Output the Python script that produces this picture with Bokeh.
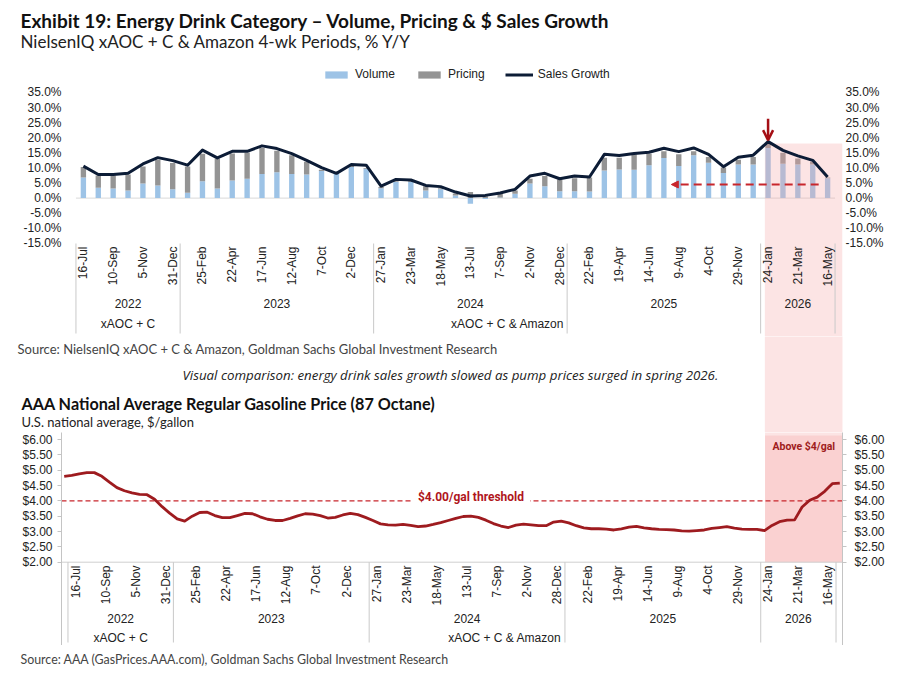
import numpy as np
import pandas as pd
from bokeh.plotting import figure
from bokeh.models import (Range1d, LinearAxis, FixedTicker, PrintfTickFormatter, Legend,
                          LegendItem, Arrow, OpenHead, NormalHead, Label)
from bokeh.layouts import column
from bokeh.core.properties import value
from bokeh.embed import file_html
from bokeh.resources import INLINE

# ---------------- data ----------------
first_period_end = "2022-07-16"          # NielsenIQ 4-week periods
volume = [6.8, 3.4, 3.2, 2.5, 4.8, 4.2, 2.9, 1.8, 5.6, 3.2,
          5.8, 6.4, 8.0, 8.6, 8.0, 7.8, 9.0, 8.3, 10.3, 9.7,
          3.3, 5.3, 5.3, 2.5, 2.9, 0.9, -1.9, -0.3, 0.2, 1.4,
          4.8, 3.9, 2.3, 2.3, 2.2, 9.1, 9.5, 9.4, 10.9, 13.3,
          10.6, 14.2, 11.7, 8.3, 11.1, 11.1, 16.6, 11.4, 11.1, 11.1, 6.6]
pricing = [3.5, 4.1, 4.3, 5.3, 5.7, 8.5, 8.7, 8.7, 9.1, 9.9,
           9.0, 8.7, 8.6, 7.1, 6.2, 4.2, 0.4, 0.2, 0.3, 0.3,
           0.4, 0.3, 0.3, 1.4, 0.4, 0.6, 2.0, 0.6, 1.4, 1.1,
           1.6, 3.4, 3.9, 4.3, 4.6, 4.3, 3.9, 5.0, 3.8, 2.2,
           3.9, 1.3, 1.9, 1.8, 1.6, 2.5, 1.5, 3.6, 2.0, 0.9, 0.2]
sales_growth = [10.6, 7.8, 7.8, 8.2, 11.3, 13.4, 12.4, 10.9, 15.9, 13.3,
                15.5, 15.5, 17.3, 16.4, 14.7, 12.5, 10.1, 8.2, 11.1, 10.9,
                4.0, 6.2, 6.0, 4.2, 3.8, 2.0, 0.7, 0.9, 1.7, 2.9,
                7.3, 8.2, 6.4, 7.3, 7.0, 14.5, 14.1, 14.8, 15.2, 16.5,
                15.4, 16.6, 14.5, 10.4, 13.5, 14.2, 18.7, 15.8, 14.0, 12.5, 7.0]
channel_names = ["xAOC + C", "xAOC + C & Amazon"]
channel_start_year = [2022, 2023]
pct_ticks = [-15, -10, -5, 0, 5, 10, 15, 20, 25, 30, 35]

gas_first_date = "2022-06-25"            # bi-weekly readings
gas_price = [4.80, 4.83, 4.88, 4.92, 4.92, 4.80, 4.61, 4.43, 4.33, 4.26,
             4.21, 4.20, 4.05, 3.81, 3.60, 3.41, 3.34, 3.50, 3.62, 3.63,
             3.52, 3.45, 3.45, 3.52, 3.59, 3.58, 3.48, 3.40, 3.36, 3.36,
             3.43, 3.51, 3.58, 3.57, 3.52, 3.44, 3.46, 3.54, 3.59, 3.55,
             3.46, 3.36, 3.25, 3.22, 3.21, 3.23, 3.20, 3.16, 3.18, 3.23,
             3.29, 3.36, 3.43, 3.49, 3.50, 3.46, 3.37, 3.26, 3.18, 3.13,
             3.21, 3.24, 3.22, 3.19, 3.19, 3.31, 3.34, 3.28, 3.19, 3.12,
             3.09, 3.09, 3.08, 3.05, 3.09, 3.14, 3.17, 3.12, 3.09, 3.07,
             3.06, 3.05, 3.02, 3.01, 3.03, 3.05, 3.10, 3.13, 3.16, 3.11,
             3.08, 3.07, 3.07, 3.03, 3.20, 3.32, 3.37, 3.38, 3.80, 4.02,
             4.12, 4.31, 4.56, 4.58]
gas_ticks = [2.0, 2.5, 3.0, 3.5, 4.0, 4.5, 5.0, 5.5, 6.0]
gas_threshold = 4.0
highlight_from = "2026-01-18"

# ---------------- derived ----------------
periods = pd.date_range(first_period_end, periods=len(volume), freq="28D")
idx = np.arange(len(periods))


def to_idx(dates):
    return np.asarray((pd.DatetimeIndex(dates) - periods[0]).days, dtype=float) / 28.0


tick_idx = list(idx[::2])
tick_text = [f"{d.day}-{d.strftime('%b')}" for d in periods[::2]]
years = np.asarray(periods.year)
year_list = sorted(set(years.tolist()))
year_lo = [idx[years == y].min() - 0.5 for y in year_list]
year_hi = [idx[years == y].max() + 0.5 for y in year_list]
seps = sorted(set(year_lo + year_hi))
ch_lo, ch_hi = [], []
for k, sy in enumerate(channel_start_year):
    ey = channel_start_year[k + 1] if k + 1 < len(channel_start_year) else 10000
    m = (years >= sy) & (years < ey)
    ch_lo.append(idx[m].min() - 0.5)
    ch_hi.append(idx[m].max() + 0.5)
hl = float(to_idx([highlight_from])[0])

vol = np.array(volume)
pri = np.array(pricing)
pri_bottom = np.maximum(vol, 0)
pri_top = pri_bottom + pri

gas_x = to_idx(pd.date_range(gas_first_date, periods=len(gas_price), freq="14D"))

# ---------------- styling / layout ----------------
W = 898
PX0 = 0
TXT = "#222222"
AXF = "Liberation Sans"
HF = "Lato"
RED = "#a50f15"
BAND = "#f4a6a6"
SEP = "#c9c9c9"

P1_TOP, P1_BOT = 62, 336
P1_FL, P1_FR = 68, 842
P1_X = (-1.0, 51.0)
P1_ZERO, P1_PX = 197.6, 3.02


def y1(py):
    return (P1_ZERO - py) / P1_PX


P2_TOP, P2_BOT = 432, 645
P2_FL, P2_FR = 61, 842
P2_X = (-0.93, 50.93)
P2_Y6, P2_PX = 439.0, 30.675
PAGE_BOT = 673


def y2(py):
    return 6 - (py - P2_Y6) / P2_PX


def page_x1(i):
    return P1_FL + (i - P1_X[0]) * (P1_FR - P1_FL) / (P1_X[1] - P1_X[0])


def no_align(f):
    if "frame_align" in f.properties():
        f.frame_align = False
    return f


def text_fig(top, bot):
    f = figure(width=W, height=bot - top, x_range=Range1d(PX0, PX0 + W),
               y_range=Range1d(bot, top), output_backend="svg", toolbar_location=None,
               title=None, x_axis_location=None, y_axis_location=None, min_border=0)
    f.grid.visible = False
    f.outline_line_color = None
    return no_align(f)


def put(f, x, y, s, size, color=TXT, style="normal", font=HF, align="left"):
    f.text(x=[x], y=[y], text=[s], text_font=value(font), text_font_size=size,
           text_color=color, text_font_style=style, text_align=align,
           text_baseline="middle")


def style_axis(ax, ticks, fmt, standoff, tick_out, line_color):
    ax.ticker = FixedTicker(ticks=ticks)
    ax.formatter = PrintfTickFormatter(format=fmt)
    ax.major_label_text_font = AXF
    ax.major_label_text_font_size = "12px"
    ax.major_label_text_color = TXT
    ax.major_label_standoff = standoff
    ax.minor_tick_line_color = None
    ax.major_tick_out = tick_out
    ax.major_tick_in = 0
    ax.major_tick_line_color = line_color
    ax.axis_line_color = line_color


def category_axis(p, y_date, y_year, y_chan, y_s0, y_s1):
    p.segment(x0=seps, y0=[y_s0] * len(seps), x1=seps, y1=[y_s1] * len(seps),
              line_color=SEP, line_width=1)
    p.text(x=tick_idx, y=[y_date] * len(tick_idx), text=tick_text, angle=np.pi / 2,
           text_align="right", text_baseline="middle", text_font=value(AXF),
           text_font_size="12px", text_color=TXT)
    yc = [(a + b) / 2 for a, b in zip(year_lo, year_hi)]
    p.text(x=yc, y=[y_year] * len(yc), text=[str(y) for y in year_list],
           text_align="center", text_baseline="middle", text_font=value(AXF),
           text_font_size="12px", text_color=TXT)
    cc = [(a + b) / 2 for a, b in zip(ch_lo, ch_hi)]
    p.text(x=cc, y=[y_chan] * len(cc), text=channel_names,
           text_align="center", text_baseline="middle", text_font=value(AXF),
           text_font_size="12px", text_color=TXT)


# ---------------- header ----------------
head = text_fig(0, P1_TOP)
put(head, 20, 19.5, "Exhibit 19: Energy Drink Category \u2013 Volume, Pricing & $ Sales Growth",
    "19px", "#111111", "bold")
put(head, 20, 40.5, "NielsenIQ xAOC + C & Amazon 4-wk Periods, % Y/Y", "17px", "#222222")

# ---------------- top chart ----------------
p1 = figure(width=W, height=P1_BOT - P1_TOP, x_range=Range1d(*P1_X),
            y_range=Range1d(y1(P1_BOT), y1(P1_TOP)), output_backend="svg",
            toolbar_location=None, title=None, x_axis_location=None,
            y_axis_location="left", min_border_left=P1_FL - PX0,
            min_border_right=PX0 + W - P1_FR, min_border_top=0, min_border_bottom=0)
no_align(p1)
p1.grid.visible = False
p1.outline_line_color = None
style_axis(p1.yaxis[0], pct_ticks, "%.1f%%", 7, 0, None)
ax1r = LinearAxis()
style_axis(ax1r, pct_ticks, "%.1f%%", 3, 0, None)
p1.add_layout(ax1r, "right")

p1.segment(x0=[seps[0]], y0=[0], x1=[seps[-1]], y1=[0], line_color="#d9d9d9", line_width=1)
r_vol = p1.vbar(x=idx, bottom=0, top=vol, width=0.36, fill_color="#9dc3e6", line_color=None)
r_pri = p1.vbar(x=idx, bottom=pri_bottom, top=pri_top, width=0.36, fill_color="#949494",
                line_color=None)
p1.quad(left=[hl], right=[P1_X[1]], bottom=[y1(P1_BOT) - 5], top=[y1(143)],
        fill_color=BAND, fill_alpha=0.3, line_color=None)
r_line = p1.line(x=idx, y=sales_growth, line_color="#0c1c36", line_width=3, line_join="round")
category_axis(p1, y1(246), y1(302.7), y1(323.3), y1(243), y1(333))

peak = int(np.argmax(sales_growth))
p1.add_layout(Arrow(end=OpenHead(size=10, line_color=RED, line_width=2.5),
                    x_start=peak, y_start=sales_growth[peak] + 7.6,
                    x_end=peak, y_end=sales_growth[peak] + 0.5,
                    line_color=RED, line_width=2.5))
p1.add_layout(Arrow(end=NormalHead(size=7, fill_color="#c8262c", line_color="#c8262c"),
                    x_start=49.4, y_start=4.5, x_end=39.5, y_end=4.5,
                    line_color="#c8262c", line_width=2, line_dash="8 5"))

legend = Legend(items=[LegendItem(label=value("Volume"), renderers=[r_vol]),
                       LegendItem(label=value("Pricing"), renderers=[r_pri]),
                       LegendItem(label=value("Sales Growth"), renderers=[r_line])],
                orientation="horizontal", location=(254, 255), border_line_color=None,
                background_fill_alpha=0, padding=0, margin=0, spacing=20,
                label_standoff=5, glyph_width=28, glyph_height=9,
                label_text_font=AXF, label_text_font_size="12px", label_text_color=TXT)
p1.add_layout(legend)

# ---------------- middle text strip ----------------
mid = text_fig(P1_BOT, P2_TOP)
mid.quad(left=[page_x1(hl)], right=[P1_FR], bottom=[P2_TOP + 2], top=[P1_BOT - 2],
         fill_color=BAND, fill_alpha=0.3, line_color=None)
put(mid, 17, 348.5, "Source: NielsenIQ xAOC + C & Amazon, Goldman Sachs Global Investment Research",
    "13px", "#444444")
put(mid, 182, 374.5, "Visual comparison: energy drink sales growth slowed as pump prices surged in spring 2026.",
    "13.3px", "#222222", "italic", "Open Sans")
put(mid, 21, 403, "AAA National Average Regular Gasoline Price (87 Octane)", "16.2px", "#111111", "bold")
put(mid, 21, 421.5, "U.S. national average, $/gallon", "13px", "#222222")

# ---------------- bottom chart ----------------
p2 = figure(width=W, height=P2_BOT - P2_TOP, x_range=Range1d(*P2_X),
            y_range=Range1d(y2(P2_BOT), y2(P2_TOP)), output_backend="svg",
            toolbar_location=None, title=None, x_axis_location=None,
            y_axis_location="left", min_border_left=P2_FL - PX0,
            min_border_right=PX0 + W - P2_FR, min_border_top=0, min_border_bottom=0)
no_align(p2)
p2.grid.visible = False
p2.outline_line_color = None
style_axis(p2.yaxis[0], gas_ticks, "$%.2f", 5, 4, "#c4c4c4")
ax2r = LinearAxis()
style_axis(ax2r, gas_ticks, "$%.2f", 8, 4, "#c4c4c4")
p2.add_layout(ax2r, "right")

p2.quad(left=[hl], right=[P2_X[1]], bottom=[2.0], top=[y2(P2_TOP) + 1],
        fill_color=BAND, fill_alpha=0.3, line_color=None)
p2.quad(left=[hl], right=[P2_X[1]], bottom=[2.0], top=[y2(435)],
        fill_color=BAND, fill_alpha=0.3, line_color=None)
p2.segment(x0=[P2_X[0]], y0=[2.0], x1=[P2_X[1]], y1=[2.0], line_color="#cfcfcf", line_width=1)
p2.segment(x0=[P2_X[0]], y0=[gas_threshold], x1=[P2_X[1]], y1=[gas_threshold],
           line_color="#c8262c", line_width=1.3, line_dash="5 3")
p2.line(x=gas_x, y=gas_price, line_color="#9e1b1f", line_width=2.8, line_join="round")
category_axis(p2, y2(565), y2(618), y2(637), 2.0, y2(642))

p2.add_layout(Label(x=26.26, y=gas_threshold + 0.13, text="$4.00/gal threshold",
                    text_align="center", text_baseline="middle", text_font="Roboto",
                    text_font_size="12px", text_font_style="bold", text_color="#b0161c",
                    background_fill_color="white", padding=6))
p2.add_layout(Label(x=(hl + P2_X[1]) / 2, y=y2(446), text="Above $4/gal",
                    text_align="center", text_baseline="middle", text_font="Roboto",
                    text_font_size="10.5px", text_font_style="bold", text_color="#a01c20"))

# ---------------- footer ----------------
foot = text_fig(P2_BOT, PAGE_BOT)
put(foot, 20, 659, "Source: AAA (GasPrices.AAA.com), Goldman Sachs Global Investment Research",
    "12.4px", "#444444")

layout = column(head, p1, mid, p2, foot, spacing=0)
open("out.html", "w").write(file_html(layout, INLINE))
